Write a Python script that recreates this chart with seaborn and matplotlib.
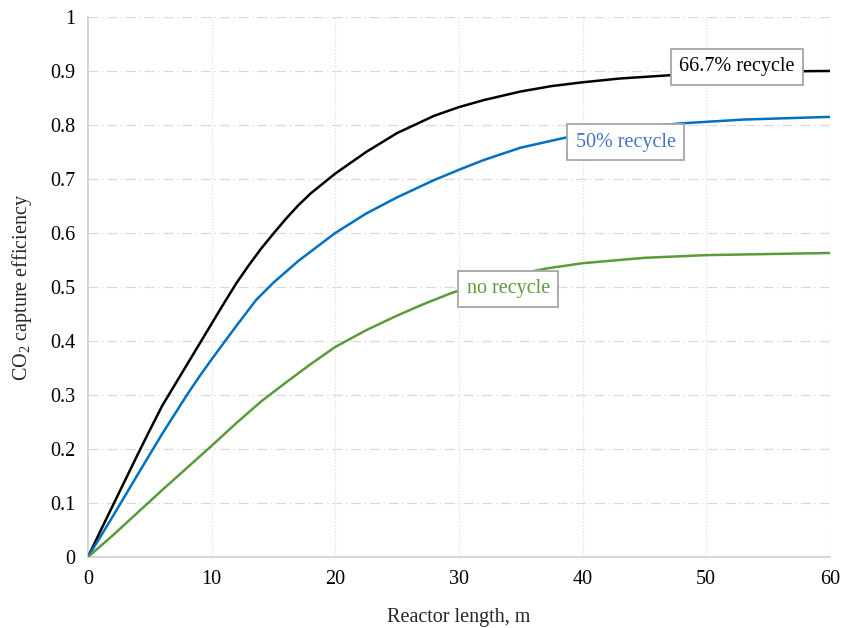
import numpy as np
import pandas as pd
import matplotlib
matplotlib.use("Agg")
import matplotlib.pyplot as plt
import seaborn as sns

# Reactor length (m) and CO2 capture efficiency for each recycle ratio
len_667 = [0, 1, 2, 3, 4, 5, 6, 7, 8, 9, 10, 11, 12, 13, 14, 15, 16, 17, 18, 20, 22.5, 25,
           28, 30, 32, 35, 37.5, 40, 43, 47, 50, 55, 60]
eff_667 = [0, 0.048, 0.095, 0.142, 0.189, 0.235, 0.28, 0.318, 0.356, 0.394, 0.432, 0.47,
           0.507, 0.54, 0.571, 0.599, 0.626, 0.651, 0.673, 0.710, 0.750, 0.785, 0.817,
           0.833, 0.846, 0.862, 0.872, 0.879, 0.886, 0.892, 0.895, 0.899, 0.90]

len_50 = [0, 2, 4, 6, 8, 9, 10, 12, 13.6, 15, 17, 20, 22.5, 25, 28, 30, 32, 35, 38.7, 42,
          45, 48, 53, 60]
eff_50 = [0, 0.075, 0.152, 0.228, 0.30, 0.334, 0.366, 0.428, 0.476, 0.508, 0.548, 0.60,
          0.636, 0.666, 0.698, 0.717, 0.735, 0.758, 0.777, 0.789, 0.797, 0.803, 0.810, 0.815]

len_none = [0, 2, 4, 6, 8, 10, 12, 14, 16, 18, 20, 22.5, 25, 27, 29.3, 32, 34.7, 37, 40,
            45, 50, 55, 60]
eff_none = [0, 0.04, 0.082, 0.124, 0.165, 0.206, 0.248, 0.288, 0.323, 0.357, 0.389, 0.42,
            0.447, 0.467, 0.488, 0.508, 0.523, 0.534, 0.544, 0.554, 0.559, 0.561, 0.563]

series_names = ["66.7% recycle", "50% recycle", "no recycle"]
line_colors = ["#000000", "#0070C0", "#5B9B3A"]
text_colors = ["#000000", "#4472C4", "#5B9B3A"]
label_pos = [(52.5, 0.908), (43.5, 0.768), (34.0, 0.497)]

df = pd.concat([
    pd.DataFrame({"length": xs, "eff": ys, "case": name})
    for xs, ys, name in zip([len_667, len_50, len_none], [eff_667, eff_50, eff_none],
                            series_names)
], ignore_index=True)

sns.set_theme(style="white")
plt.rcParams["font.family"] = ["Liberation Serif", "DejaVu Serif"]
plt.rcParams["mathtext.fontset"] = "custom"
plt.rcParams["mathtext.rm"] = "Liberation Serif"

fig = plt.figure(figsize=(8.42, 6.28), dpi=100)
ax = fig.add_axes([0.1045, 0.113, 0.881, 0.86])

for y in np.arange(0.1, 1.01, 0.1):
    ax.axhline(y, color="#D9D9D9", linewidth=0.9, linestyle=(0, (8, 3, 1, 3)), zorder=0)
for x in np.arange(10, 61, 10):
    ax.axvline(x, color="#E0E0E0", linewidth=0.9, linestyle=(0, (1, 1.5)), zorder=0)

sns.lineplot(data=df, x="length", y="eff", hue="case", hue_order=series_names,
             palette=line_colors, linewidth=1.8, legend=False, sort=True, ax=ax, zorder=3)

ax.set_xlim(0, 60)
ax.set_ylim(0, 1)
ax.set_xticks(np.arange(0, 61, 10))
ax.set_yticks(np.arange(0, 1.01, 0.1))
ax.set_yticklabels(["0"] + [f"{v:.1f}" for v in np.arange(0.1, 0.95, 0.1)] + ["1"])

for side in ["top", "right"]:
    ax.spines[side].set_visible(False)
for side in ["left", "bottom"]:
    ax.spines[side].set_color("#D0D0D0")
    ax.spines[side].set_linewidth(1.2)

ax.tick_params(axis="both", length=0, labelsize=14.5, pad=9, colors="#000000")
ax.set_xlabel("Reactor length, m", fontsize=14.5, labelpad=14)
ax.set_ylabel(r"CO$\mathregular{_2}$ capture efficiency", fontsize=14.5, labelpad=12)

for name, col, (lx, ly) in zip(series_names, text_colors, label_pos):
    ax.text(lx, ly, name, color=col, fontsize=14.5, ha="center", va="center", zorder=5,
            bbox=dict(boxstyle="square,pad=0.42", facecolor="white", edgecolor="#A6A6A6",
                      linewidth=1.3))

fig.savefig("out.png", dpi=100)
